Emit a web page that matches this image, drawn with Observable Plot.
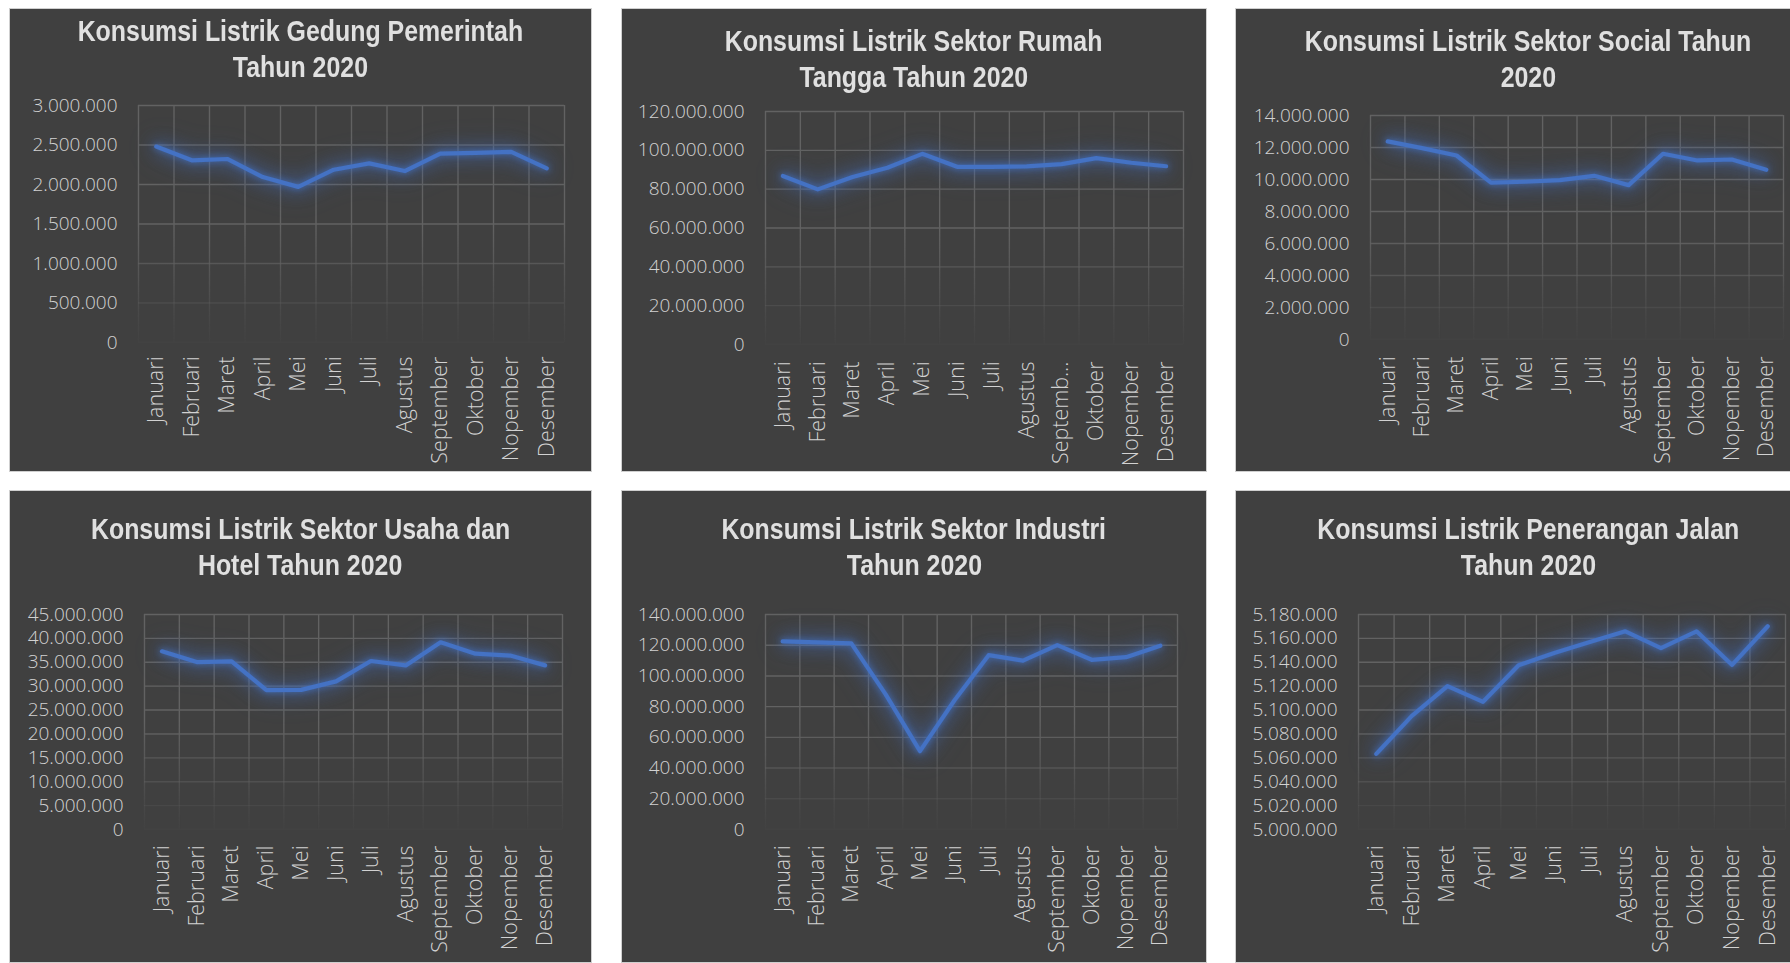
<!DOCTYPE html>
<html><head><meta charset="utf-8">
<script src="https://cdn.jsdelivr.net/npm/d3@7"></script>
<script src="https://cdn.jsdelivr.net/npm/@observablehq/plot@0.6"></script>
<style>
html,body{margin:0;padding:0;background:#fff;width:1790px;height:963px;overflow:hidden;}
.panel{position:absolute;box-sizing:border-box;border:1px solid #cfcfcf;background:#404040;overflow:hidden;}
.title{position:absolute;left:0;right:0;text-align:center;font-family:"Liberation Sans",Arial,sans-serif;font-weight:bold;font-size:30px;line-height:36px;color:#e0e0e0;white-space:nowrap;}
.title span{display:inline-block;transform:scaleX(0.83);transform-origin:50% 50%;}
.panel svg{position:absolute;left:0;top:0;}
.xax text{font-size:21.5px;}
</style></head><body>
<script>
// ---- data ----
const months = ["Januari","Februari","Maret","April","Mei","Juni","Juli","Agustus","September","Oktober","Nopember","Desember"];
const monthsRumahTangga = ["Januari","Februari","Maret","April","Mei","Juni","Juli","Agustus","Septemb…","Oktober","Nopember","Desember"];

const pemerintah = [2480000, 2306000, 2323000, 2094000, 1970000, 2187000, 2268000, 2170000, 2391000, 2400000, 2413000, 2204000];
const rumahTangga = [86800000, 79900000, 86300000, 91000000, 98200000, 91500000, 91500000, 91700000, 92900000, 96000000, 93600000, 91800000];
const sosial = [12380000, 11960000, 11500000, 9800000, 9860000, 9960000, 10230000, 9650000, 11610000, 11190000, 11250000, 10610000];
const usahaHotel = [37300000, 35050000, 35200000, 29160000, 29230000, 31000000, 35260000, 34350000, 39180000, 36800000, 36400000, 34350000];
const industri = [122500000, 121800000, 121200000, 88000000, 51000000, 84000000, 113500000, 110000000, 120100000, 110500000, 112200000, 119700000];
const peneranganJalan = [5063300, 5095100, 5120100, 5106900, 5137500, 5147700, 5156900, 5165900, 5151900, 5165900, 5137800, 5170200];

const ticksPemerintah = [0, 500000, 1000000, 1500000, 2000000, 2500000, 3000000];
const ticksRumahTangga = [0, 20000000, 40000000, 60000000, 80000000, 100000000, 120000000];
const ticksSosial = [0, 2000000, 4000000, 6000000, 8000000, 10000000, 12000000, 14000000];
const ticksUsahaHotel = [0, 5000000, 10000000, 15000000, 20000000, 25000000, 30000000, 35000000, 40000000, 45000000];
const ticksIndustri = [0, 20000000, 40000000, 60000000, 80000000, 100000000, 120000000, 140000000];
const ticksPenerangan = [5000000, 5020000, 5040000, 5060000, 5080000, 5100000, 5120000, 5140000, 5160000, 5180000];

const titles = [
  ["Konsumsi Listrik Gedung Pemerintah", "Tahun 2020"],
  ["Konsumsi Listrik Sektor Rumah", "Tangga Tahun 2020"],
  ["Konsumsi Listrik Sektor Social Tahun", "2020"],
  ["Konsumsi Listrik Sektor Usaha dan", "Hotel Tahun 2020"],
  ["Konsumsi Listrik Sektor Industri", "Tahun 2020"],
  ["Konsumsi Listrik Penerangan Jalan", "Tahun 2020"]
];

// ---- layout (page pixels) ----
const layout = [
  {box:[9,8,583,464],    frame:[138,564,105,342], titleTop:13,  xPad:14},
  {box:[621,8,586,464],  frame:[765,1183,111,344], titleTop:23, xPad:17},
  {box:[1235,8,586,464], frame:[1370,1783,115,339], titleTop:23, xPad:17},
  {box:[9,490,583,473],  frame:[144,562,614,829], titleTop:511, xPad:16},
  {box:[621,490,586,473],frame:[765,1177,614,829], titleTop:511, xPad:16},
  {box:[1235,490,586,473],frame:[1358,1785,614,829], titleTop:511, xPad:16}
];

const series = [pemerintah, rumahTangga, sosial, usahaHotel, industri, peneranganJalan];
const ticks = [ticksPemerintah, ticksRumahTangga, ticksSosial, ticksUsahaHotel, ticksIndustri, ticksPenerangan];
const labels = [months, monthsRumahTangga, months, months, months, months];

const idLocale = d3.formatLocale({decimal: ",", thousands: ".", grouping: [3], currency: ["Rp", ""]});
const fmt = idLocale.format(",d");
const ns = "http://www.w3.org/2000/svg";

layout.forEach((p, k) => {
  const [L, T, W, H] = p.box;
  const div = document.createElement("div");
  div.className = "panel";
  Object.assign(div.style, {left: L + "px", top: T + "px", width: W + "px", height: H + "px"});
  document.body.appendChild(div);
  const iL = L + 1, iT = T + 1, iw = W - 2, ih = H - 2;
  const [fx0, fx1, fy0, fy1] = p.frame;
  const tk = ticks[k];
  const lab = labels[k];
  const svg = Plot.plot({
    width: iw, height: ih,
    marginLeft: fx0 - iL, marginRight: iL + iw - fx1,
    marginTop: fy0 - iT, marginBottom: iT + ih - fy1,
    style: {background: "transparent", color: "#d2d2d2", fontFamily: "'Open Sans', sans-serif", fontSize: "19px", fontWeight: "300", overflow: "visible"},
    x: {type: "linear", domain: [-0.5, 11.5]},
    y: {type: "linear", domain: [tk[0], tk[tk.length - 1]]},
    marks: [
      Plot.gridY(tk, {stroke: "#626262", strokeOpacity: 1, strokeWidth: 1.4}),
      Plot.gridX(d3.range(13).map(i => i - 0.5), {stroke: "#626262", strokeOpacity: 1, strokeWidth: 1.4}),
      Plot.axisY(tk, {tickSize: 0, tickPadding: 21, tickFormat: fmt}),
      Plot.axisX(d3.range(12), {tickSize: 0, tickRotate: -90, tickPadding: p.xPad, tickFormat: i => lab[i], fontSize: 21.5}),
      Plot.line(series[k], {x: (d, i) => i, y: d => d, stroke: "#4472C4", strokeWidth: 4.2, strokeLinecap: "round", strokeLinejoin: "round"})
    ]
  });
  // fade the gridlines toward the bottom, as in the reference
  const y0 = fy0 - iT, y1 = fy1 - iT;
  const defs = document.createElementNS(ns, "defs");
  defs.innerHTML = `<linearGradient id="fg${k}" gradientUnits="userSpaceOnUse" x1="0" y1="${y0}" x2="0" y2="${y1}">
      <stop offset="0" stop-color="#fff" stop-opacity="1"/>
      <stop offset="0.5" stop-color="#fff" stop-opacity="1"/>
      <stop offset="0.72" stop-color="#fff" stop-opacity="0.6"/>
      <stop offset="0.88" stop-color="#fff" stop-opacity="0.25"/>
      <stop offset="1" stop-color="#fff" stop-opacity="0.06"/>
    </linearGradient>
    <mask id="fm${k}" maskUnits="userSpaceOnUse" x="0" y="0" width="${iw}" height="${ih}">
      <rect x="0" y="${y0 - 3}" width="${iw}" height="${y1 - y0 + 6}" fill="url(#fg${k})"/>
    </mask>`;
  svg.appendChild(defs);
  svg.querySelectorAll('g[aria-label="y-grid"], g[aria-label="x-grid"]').forEach(g => g.setAttribute("mask", `url(#fm${k})`));
  svg.querySelectorAll('g[aria-label="line"]').forEach(g => {
    g.style.filter = "drop-shadow(0 0 3px rgba(68,114,196,0.9)) drop-shadow(0 0 8px rgba(68,114,196,0.6)) drop-shadow(0 0 12px rgba(60,100,180,0.45))";
  });
  div.appendChild(svg);
  const t = document.createElement("div");
  t.className = "title";
  t.style.top = (p.titleTop - iT) + "px";
  t.innerHTML = titles[k].map(s => `<span>${s}</span>`).join("<br>");
  div.appendChild(t);
});
</script>
</body></html>
